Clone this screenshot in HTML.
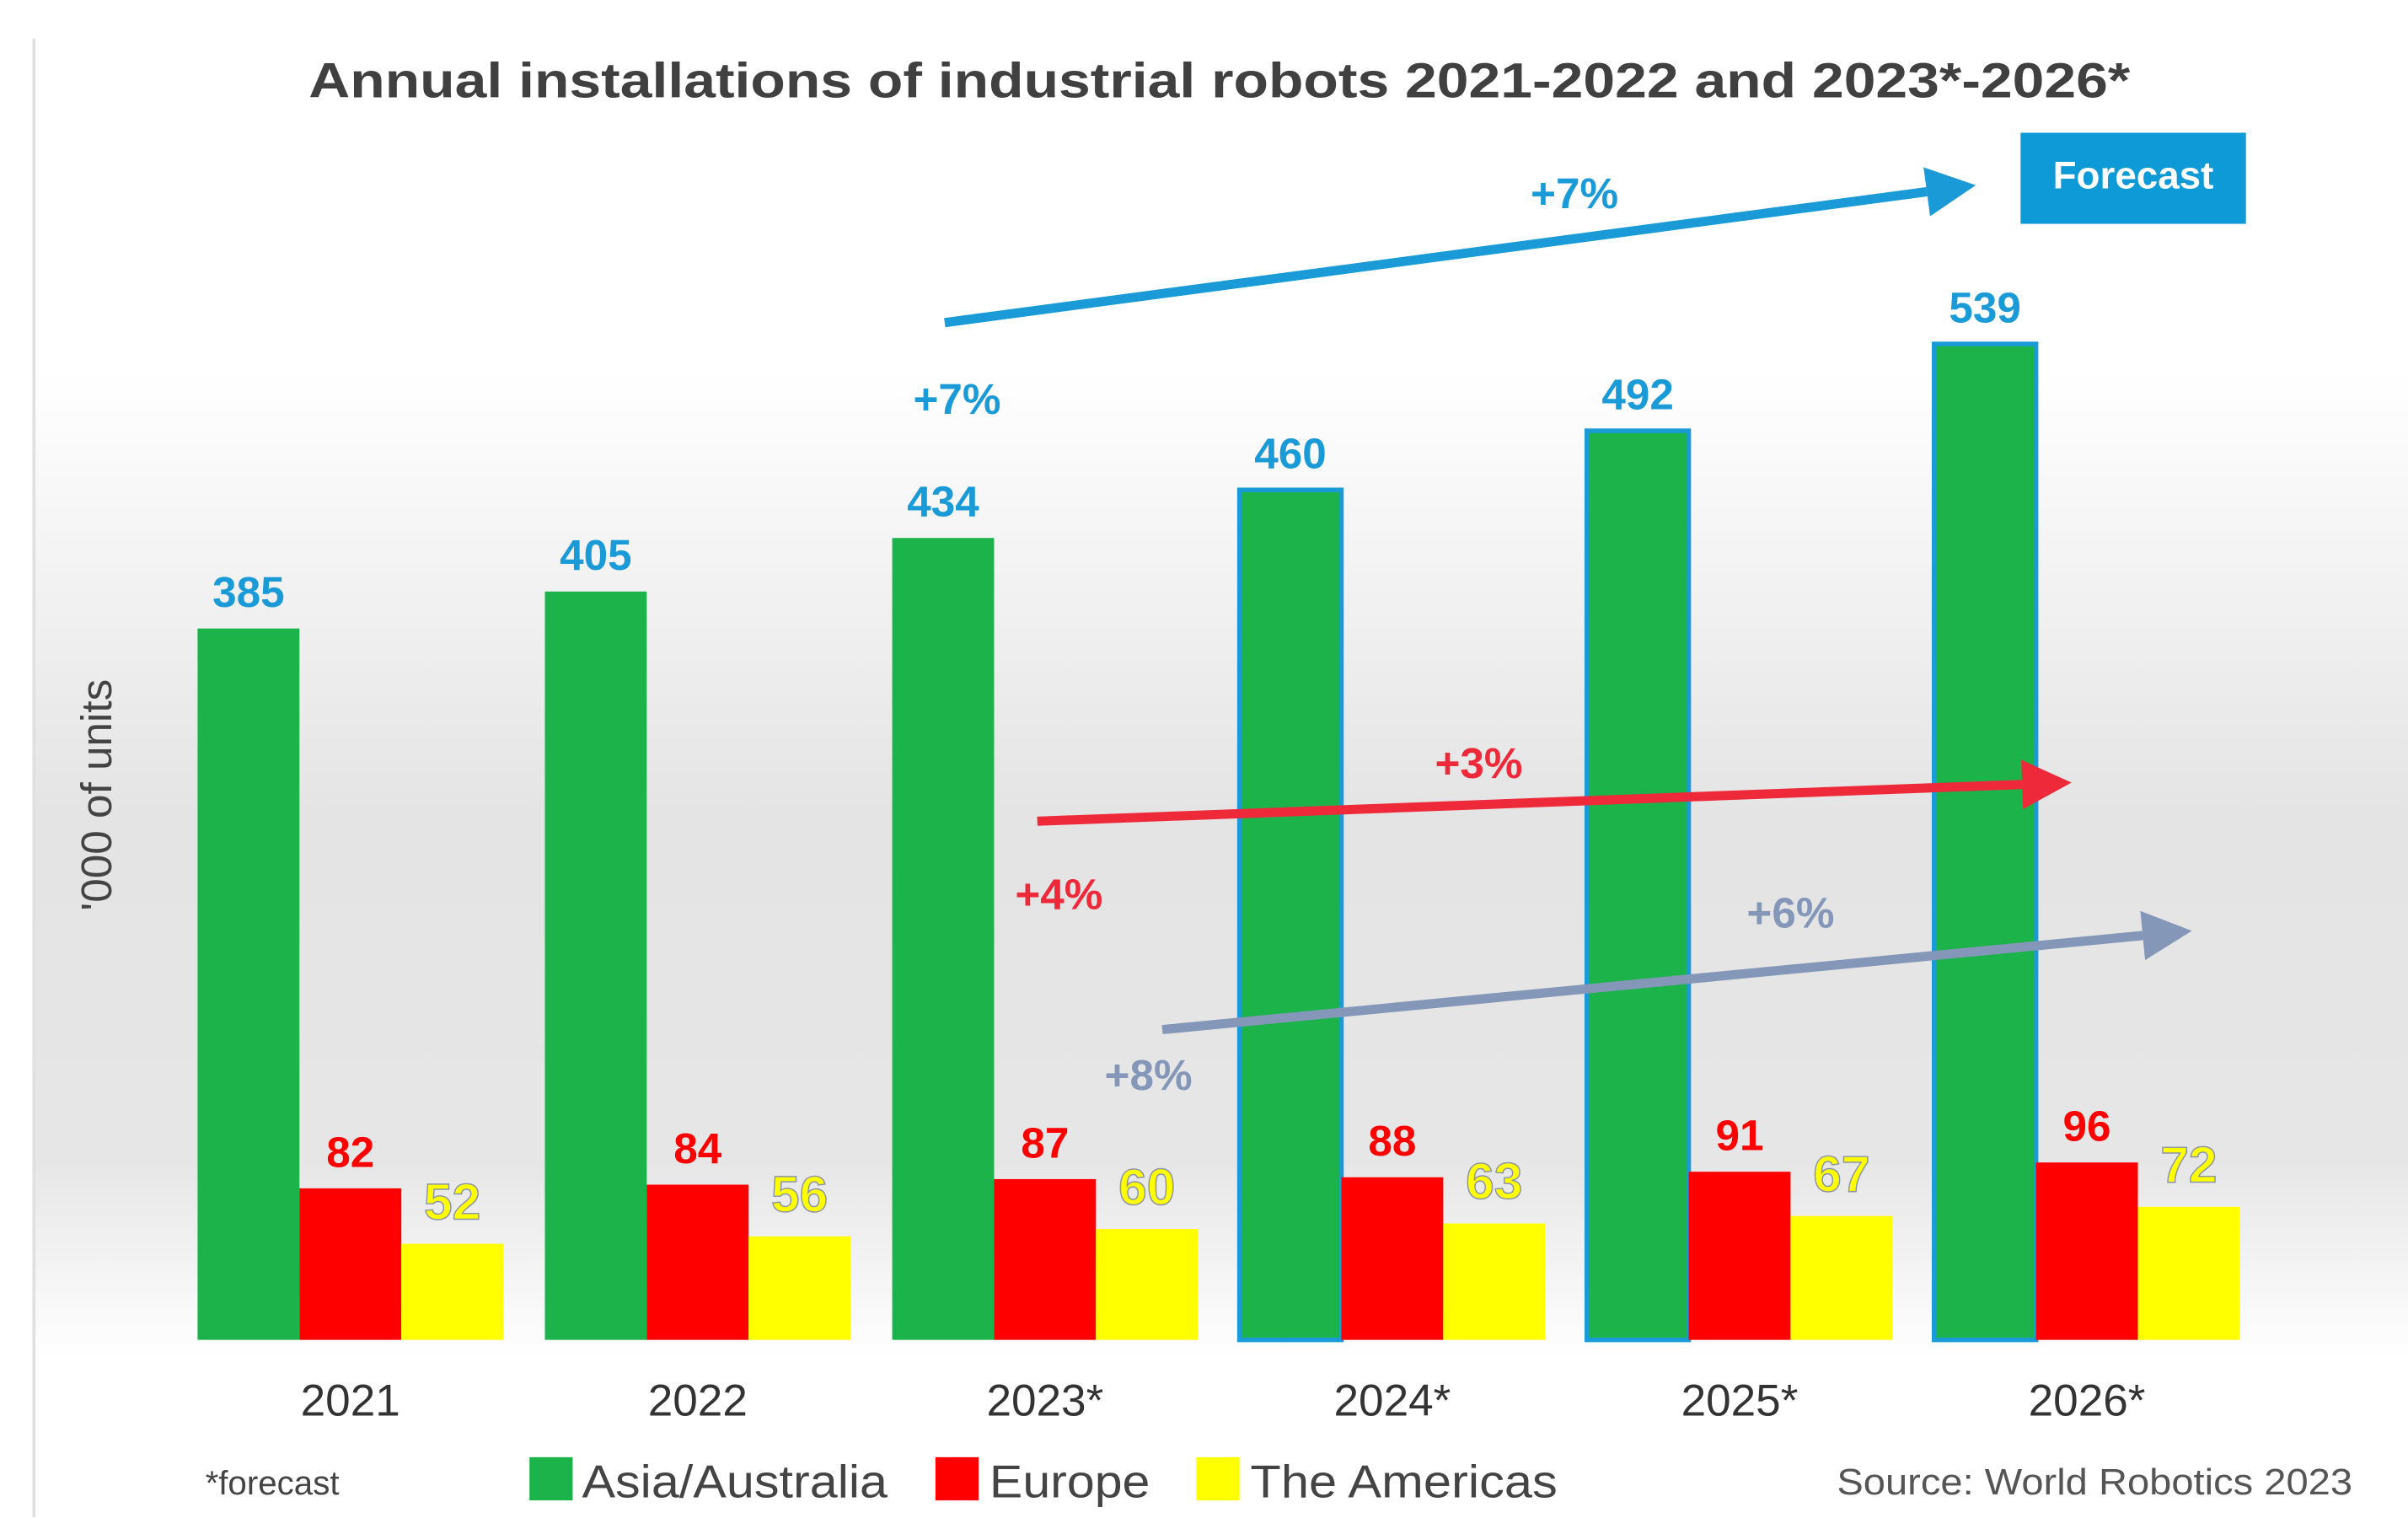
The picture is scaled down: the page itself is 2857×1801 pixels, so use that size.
<!DOCTYPE html>
<html><head><meta charset="utf-8"><style>
html,body{margin:0;padding:0;background:#fff;}
svg{display:block;font-family:"Liberation Sans",sans-serif;}
</style></head><body>
<svg id="chart" width="2857" height="1801" viewBox="0 0 1560 983.4" xmlns="http://www.w3.org/2000/svg">
<defs>
<linearGradient id="bg" x1="0" y1="0" x2="0" y2="1">
<stop offset="0" stop-color="#ffffff"/><stop offset="0.45" stop-color="#e4e4e4"/><stop offset="0.8" stop-color="#e6e6e6"/><stop offset="1" stop-color="#ffffff"/>
</linearGradient>
</defs>
<rect x="22" y="240" width="1538" height="640" fill="url(#bg)"/>
<line x1="22" y1="25" x2="22" y2="983" stroke="#e0e0e0" stroke-width="2"/>
<text x="200" y="63" textLength="1180" lengthAdjust="spacingAndGlyphs" font-size="32" font-weight="bold" fill="#404040">Annual installations of industrial robots 2021-2022 and 2023*-2026*</text>
<rect x="1309" y="86" width="146" height="59" fill="#0d9ad6"/>
<text x="1382" y="122" text-anchor="middle" font-size="25" font-weight="bold" fill="#fff">Forecast</text>
<text transform="translate(72,515) rotate(-90)" text-anchor="middle" font-size="28" fill="#444">'000 of units</text>
<g id="bars"></g>
<g id="arrows"></g>
<text x="133" y="968" font-size="22" fill="#444">*forecast</text>
<rect x="343" y="944" width="28" height="28" fill="#1bb34a"/>
<text x="377" y="970" textLength="198" lengthAdjust="spacingAndGlyphs" font-size="30" fill="#444">Asia/Australia</text>
<rect x="606" y="944" width="28" height="28" fill="#ff0000"/>
<text x="641" y="970" textLength="104" lengthAdjust="spacingAndGlyphs" font-size="30" fill="#444">Europe</text>
<rect x="775" y="944" width="28" height="28" fill="#ffff00"/>
<text x="810" y="970" textLength="199" lengthAdjust="spacingAndGlyphs" font-size="30" fill="#444">The Americas</text>
<text x="1190" y="968" textLength="334" lengthAdjust="spacingAndGlyphs" font-size="24" fill="#555">Source: World Robotics 2023</text>
</svg>
<script>
const years = ["2021","2022","2023*","2024*","2025*","2026*"];
const asia = [385,405,434,460,492,539];
const europe = [82,84,87,88,91,96];
const americas = [52,56,60,63,67,72];
const forecastFlags = [false,false,false,true,true,true];

const NS="http://www.w3.org/2000/svg";
const baseY=868, scale=1.197, groupX0=128, groupStep=225, bw=66;
function yPos(v){return baseY - v*scale;}
function xGroup(i){return groupX0 + i*groupStep;}
const g=document.getElementById('bars');
function mk(tag,attrs,parent){const e=document.createElementNS(NS,tag);for(const k in attrs)e.setAttribute(k,attrs[k]);(parent||g).appendChild(e);return e;}
years.forEach((yr,i)=>{
  const x=xGroup(i);
  const series=[[asia[i],'#1bb34a','#1a9ad6','asia'],[europe[i],'#ff0000','#ff0000','europe'],[americas[i],'#ffff00','#ffff00','americas']];
  series.forEach((s,j)=>{
    const bx=x+j*bw, by=yPos(s[0]);
    const r=mk('rect',{x:bx,y:by,width:bw,height:baseY-by,fill:s[1]});
    
    
    if(j===0&&forecastFlags[i]){r.setAttribute('stroke','#1a9ad6');r.setAttribute('stroke-width','3');}
    const t=mk('text',{x:bx+bw/2,y:by-14,'text-anchor':'middle','font-size':28,'font-weight':'bold',fill:s[2]});
    if(j===2){t.setAttribute('stroke','#8a94a8');t.setAttribute('stroke-width','0.8');t.setAttribute('font-size','33');t.setAttribute('y',by-16);}
    t.textContent=s[0];
    
    
  });
  const yl=mk('text',{x:x+bw*1.5,y:917,'text-anchor':'middle','font-size':29,fill:'#333'});
  yl.textContent=yr;
  
  
});
const a=document.getElementById('arrows');
function arrow(x1,y1,x2,y2,col,name){
  const ang=Math.atan2(y2-y1,x2-x1),L=32,W=16;
  const bx=x2-L*Math.cos(ang),by=y2-L*Math.sin(ang);
  const l=mk('line',{x1:x1,y1:y1,x2:bx,y2:by,stroke:col,'stroke-width':6},a);
  
  
  const px=-Math.sin(ang)*W,py=Math.cos(ang)*W;
  const p=mk('polygon',{points:`${x2},${y2} ${bx+px},${by+py} ${bx-px},${by-py}`,fill:col},a);
  
  
}
arrow(612,209,1280,120,'#1a9ad6','asia-growth-arrow');
arrow(672,532,1342,507,'#ee2a3a','europe-growth-arrow');
arrow(753,667,1420,603,'#8497b8','americas-growth-arrow');
const labels=[[1020,135,'+7%','#1a9ad6','asia-cagr-label'],[620,268,'+7%','#1a9ad6','asia-2023-growth'],[958,504,'+3%','#ee2a3a','europe-cagr-label'],[686,589,'+4%','#ee2a3a','europe-2023-growth'],[1160,601,'+6%','#8497b8','americas-cagr-label'],[744,706,'+8%','#8497b8','americas-2023-growth']];
labels.forEach(l=>{const t=mk('text',{x:l[0],y:l[1],'text-anchor':'middle','font-size':28,'font-weight':'bold',fill:l[3]},a);t.textContent=l[2];

});
</script>
</body></html>
